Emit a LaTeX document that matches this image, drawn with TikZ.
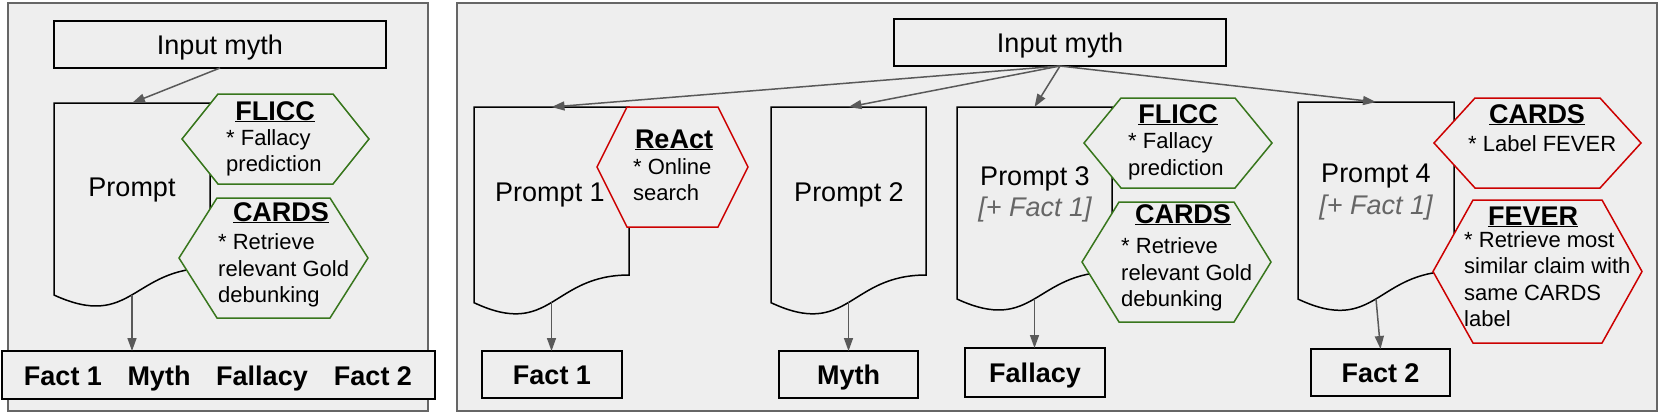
\documentclass[tikz,border=0pt]{standalone}
\usepackage{fontspec}
\setmainfont{Liberation Sans}
\usetikzlibrary{arrows.meta}
\definecolor{panelfill}{HTML}{EEEEEE}
\definecolor{panelline}{HTML}{666666}
\definecolor{arrowgray}{HTML}{595959}
\definecolor{hexgreen}{HTML}{38761D}
\definecolor{hexred}{HTML}{CC0000}
\definecolor{notegray}{HTML}{666666}
\newcommand\bigfont{\fontsize{27}{31}\selectfont}
\newcommand\smallfont{\fontsize{22}{26.5}\selectfont}
\tikzset{
  panel/.style={draw=panelline, line width=1.5pt, fill=panelfill},
  capcenter/.style={text height=19.5pt, text depth=0pt},
  boxnode/.style={draw=black, line width=1.5pt, fill=panelfill, inner sep=0pt, outer sep=0pt, font=\bigfont, capcenter},
  outlabel/.style={font=\bigfont\bfseries, inner sep=0pt, anchor=base},
  docnode/.style={inner sep=0pt, outer sep=0pt, draw=none},
  docline/.style={draw=black, line width=1.5pt, fill=panelfill},
  hexline/.style={line width=1.5pt, fill=panelfill},
  arr/.style={draw=arrowgray, line width=1.5pt, -{Triangle[length=13pt,width=9pt]}},
  hextitle/.style={font=\bigfont\bfseries, inner sep=0pt, anchor=base},
  hexbody/.style={font=\smallfont, inner sep=0pt, align=left, anchor=west},
  prompttext/.style={font=\bigfont, inner sep=0pt, capcenter},
  notetext/.style={font=\bigfont\itshape, text=notegray, inner sep=0pt, capcenter},
}
% document shape: name, x1, x2, top, height
\newcommand\docshape[5]{%
  \node[docnode, minimum width={#3-#2}, minimum height={0.933*#5}] (#1) at ({(#2+#3)/2},{#4+0.4665*#5}) {};
  \draw[docline] (#2,#4) -- (#3,#4) -- (#3,{#4+0.802*#5})
    .. controls ({(#2+#3)/2},{#4+0.802*#5}) and ({(#2+#3)/2},{#4+1.1075*#5}) .. (#2,{#4+0.934*#5}) -- cycle;
}
% hexagon: name, x1, x2, y1, y2, inset, colour
\newcommand\hexshape[7]{%
  \draw[hexline, draw=#7] (#2,{(#4+#5)/2}) -- ({#2+#6},#4) -- ({#3-#6},#4) -- (#3,{(#4+#5)/2})
    -- ({#3-#6},#5) -- ({#2+#6},#5) -- cycle;
  \coordinate (#1) at ({(#2+#3)/2},{(#4+#5)/2});
}
\begin{document}
\begin{tikzpicture}[x=1pt, y=-1pt]
\useasboundingbox[fill=white] (0,0) rectangle (1661,413);
% panels
\draw[panel] (8,3) rectangle (428,411);
\draw[panel] (457,3) rectangle (1657,411);

% ---------- left panel ----------
\node[boxnode, minimum width=332pt, minimum height=47pt] (in0) at (220,44.5) {Input myth};
\docshape{pL}{54}{210}{103}{205.6}
\node[prompttext] (pLt) at (132,187) {Prompt};
\hexshape{hL1}{182}{369}{94}{184}{36}{hexgreen}
\node[hextitle] (hL1t) at (275,120) {\underline{FLICC}};
\node[hexbody] (hL1b) at (226,153) {* Fallacy\\prediction};
\hexshape{hL2}{179}{368}{198}{318}{38}{hexgreen}
\node[hextitle] (hL2t) at (281,221) {\underline{CARDS}};
\node[hexbody] (hL2b) at (218,270.5) {* Retrieve\\relevant Gold\\debunking};
\node[boxnode, minimum width=433pt, minimum height=48pt] (out0) at (218.5,375) {};
\node[outlabel] (o1) at (63,385.5) {Fact 1};
\node[outlabel] (o2) at (159,385.5) {Myth};
\node[outlabel] (o3) at (262,385.5) {Fallacy};
\node[outlabel] (o4) at (373,385.5) {Fact 2};
\draw[arr] (in0.south) -- (pL.north);
\draw[arr] (pL.south) -- (pL.south |- out0.north);

% ---------- right panel ----------
\node[boxnode, minimum width=332pt, minimum height=47pt] (in1) at (1060,42.5) {Input myth};

% prompt 1
\docshape{p1}{474}{629}{107}{209.5}
\node[prompttext] (p1t) at (550,192) {Prompt 1};
\hexshape{hR}{597}{748}{107}{227}{30}{hexred}
\node[hextitle] (hRt) at (674,148) {\underline{ReAct}};
\node[hexbody] (hRb) at (633,179.5) {* Online\\search};
\node[boxnode, font=\bigfont\bfseries, minimum width=140pt, minimum height=47pt] (f1) at (552,374.5) {Fact 1};

% prompt 2
\docshape{p2}{771}{926}{107}{209.5}
\node[prompttext] (p2t) at (849,192) {Prompt 2};
\node[boxnode, font=\bigfont\bfseries, minimum width=139pt, minimum height=47pt] (myth) at (848.5,374.5) {Myth};

% prompt 3
\docshape{p3}{957}{1112}{107}{205.6}
\node[prompttext] (p3t) at (1035,176) {Prompt 3};
\node[notetext] (p3n) at (1035,207) {[+ Fact 1]};
\hexshape{hF3}{1084}{1272}{98}{188}{37}{hexgreen}
\node[hextitle] (hF3t) at (1178,123) {\underline{FLICC}};
\node[hexbody] (hF3b) at (1128,156.5) {* Fallacy\\prediction};
\hexshape{hC3}{1082}{1271}{202}{322}{37}{hexgreen}
\node[hextitle] (hC3t) at (1183,223) {\underline{CARDS}};
\node[hexbody] (hC3b) at (1121,274.5) {* Retrieve\\relevant Gold\\debunking};
\node[boxnode, font=\bigfont\bfseries, minimum width=140pt, minimum height=49pt] (fal) at (1035,372.5) {Fallacy};

% prompt 4
\docshape{p4}{1298}{1454}{102}{211}
\node[prompttext] (p4t) at (1376,173) {Prompt 4};
\node[notetext] (p4n) at (1376,205) {[+ Fact 1]};
\hexshape{hC4}{1434}{1641}{98}{188}{41}{hexred}
\node[hextitle] (hC4t) at (1537,123) {\underline{CARDS}};
\node[hexbody] (hC4b) at (1468,144) {* Label FEVER};
\hexshape{hV4}{1433}{1642}{200}{343}{40}{hexred}
\node[hextitle] (hV4t) at (1533,225) {\underline{FEVER}};
\node[hexbody] (hV4b) at (1464,279) {* Retrieve most\\similar claim with\\same CARDS\\label};
\node[boxnode, font=\bigfont\bfseries, minimum width=139pt, minimum height=47pt] (f2) at (1380.5,372.5) {Fact 2};

% connectors
\draw[arr] (in1.south) -- (p1.north);
\draw[arr] (in1.south) -- (p2.north);
\draw[arr] (in1.south) -- (p3.north);
\draw[arr] (in1.south) -- (p4.north);
\draw[arr] (p1.south) -- (p1.south |- f1.north);
\draw[arr] (p2.south) -- (p2.south |- myth.north);
\draw[arr] (p3.south) -- (p3.south |- fal.north);
\draw[arr] (p4.south) -- (f2.north);
\end{tikzpicture}
\end{document}
